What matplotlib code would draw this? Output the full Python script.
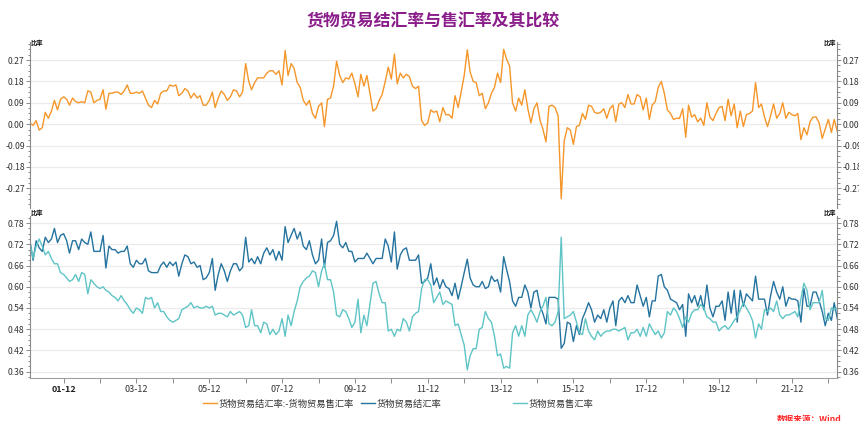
import matplotlib
matplotlib.use("Agg")
import matplotlib.pyplot as plt
import matplotlib.dates as mdates
from matplotlib.ticker import FixedLocator, AutoMinorLocator, FormatStrFormatter
from matplotlib.lines import Line2D
import numpy as np
import pandas as pd

plt.rcParams['font.family'] = ['Noto Sans CJK SC', 'DejaVu Sans']

title = "货物贸易结汇率与售汇率及其比较"
name_diff = "货物贸易结汇率:-货物贸易售汇率"
name_settle = "货物贸易结汇率"
name_sale = "货物贸易售汇率"
source = "数据来源：Wind"
unit = "比率"
start_month = "2001-01"

# 货物贸易结汇率 (monthly, from 2001-01)
settle = [
    0.723, 0.675, 0.73, 0.71, 0.70, 0.74, 0.725, 0.735, 0.765, 0.725,
    0.745, 0.75, 0.73, 0.695, 0.73, 0.73, 0.705, 0.735, 0.725, 0.72,
    0.755, 0.70, 0.70, 0.70, 0.745, 0.653, 0.715, 0.705, 0.705, 0.695,
    0.70, 0.70, 0.715, 0.665, 0.655, 0.675, 0.665, 0.665, 0.68, 0.645,
    0.64, 0.64, 0.64, 0.66, 0.67, 0.655, 0.67, 0.66, 0.67, 0.63,
    0.665, 0.69, 0.685, 0.665, 0.67, 0.655, 0.66, 0.62, 0.625, 0.64,
    0.68, 0.59, 0.635, 0.665, 0.645, 0.615, 0.645, 0.665, 0.665, 0.645,
    0.655, 0.74, 0.67, 0.68, 0.665, 0.685, 0.665, 0.695, 0.71, 0.69,
    0.705, 0.675, 0.70, 0.675, 0.77, 0.725, 0.745, 0.765, 0.735, 0.755,
    0.715, 0.705, 0.73, 0.69, 0.665, 0.675, 0.735, 0.655, 0.725, 0.73,
    0.745, 0.785, 0.72, 0.71, 0.725, 0.70, 0.70, 0.67, 0.68, 0.68,
    0.68, 0.695, 0.68, 0.665, 0.68, 0.68, 0.68, 0.735, 0.715, 0.67,
    0.755, 0.65, 0.69, 0.705, 0.71, 0.675, 0.675, 0.675, 0.69, 0.61,
    0.615, 0.625, 0.665,
    0.605, 0.625, 0.595, 0.62, 0.60, 0.595, 0.575, 0.61, 0.565, 0.60,
    0.64, 0.678, 0.625, 0.605, 0.60, 0.60, 0.615, 0.595, 0.60, 0.63,
    0.615, 0.62, 0.585, 0.685, 0.65, 0.615, 0.56, 0.545, 0.57, 0.57,
    0.605, 0.585, 0.54, 0.585, 0.59, 0.545, 0.525, 0.495, 0.57, 0.57,
    0.57, 0.565, 0.426, 0.44, 0.50, 0.495, 0.445, 0.49, 0.465, 0.51,
    0.53, 0.555, 0.535, 0.50, 0.52, 0.51, 0.535, 0.50, 0.54, 0.56,
    0.49, 0.56, 0.57, 0.555, 0.575, 0.555, 0.555, 0.605, 0.575, 0.545,
    0.57, 0.515, 0.56, 0.56, 0.63, 0.635, 0.60, 0.59, 0.565, 0.56,
    0.555, 0.535, 0.55, 0.46, 0.58, 0.555, 0.575, 0.545, 0.575, 0.535,
    0.605, 0.54, 0.515, 0.545, 0.545, 0.56, 0.505, 0.585, 0.525, 0.59,
    0.50, 0.59, 0.545, 0.58, 0.57, 0.56, 0.63, 0.565, 0.565, 0.565,
    0.52, 0.575, 0.615, 0.585, 0.565, 0.60, 0.545, 0.57, 0.565, 0.565,
    0.56, 0.50, 0.595, 0.545, 0.545, 0.585, 0.585, 0.56, 0.53, 0.49,
    0.525, 0.505, 0.555, 0.51,
]

# 货物贸易售汇率 (monthly, from 2001-01)
sale = [
    0.72, 0.68, 0.715, 0.735, 0.715, 0.69, 0.70, 0.68, 0.665, 0.665,
    0.64, 0.635, 0.625, 0.615, 0.62, 0.635, 0.615, 0.64, 0.635, 0.58,
    0.62, 0.61, 0.60, 0.595, 0.60, 0.59, 0.585, 0.575, 0.57, 0.56,
    0.575, 0.56, 0.55, 0.535, 0.525, 0.54, 0.535, 0.525, 0.57, 0.565,
    0.57, 0.54, 0.555, 0.53, 0.53, 0.515, 0.505, 0.50, 0.505, 0.51,
    0.535, 0.54, 0.545, 0.555, 0.54, 0.545, 0.54, 0.54, 0.545, 0.54,
    0.545, 0.52, 0.525, 0.525, 0.52, 0.515, 0.53, 0.52, 0.525, 0.53,
    0.52, 0.485, 0.49, 0.535, 0.49, 0.49, 0.47, 0.50, 0.495, 0.465,
    0.48, 0.465, 0.475, 0.51, 0.46, 0.52, 0.49, 0.53, 0.56, 0.60,
    0.615, 0.625, 0.63, 0.645, 0.64, 0.60, 0.645, 0.665, 0.62, 0.62,
    0.585, 0.52, 0.515, 0.535, 0.53, 0.51, 0.485, 0.50, 0.565, 0.47,
    0.52, 0.49, 0.55, 0.61, 0.615, 0.58, 0.555, 0.555, 0.475, 0.48,
    0.46, 0.48, 0.475, 0.51, 0.50, 0.475, 0.515, 0.525, 0.53, 0.595,
    0.62, 0.62, 0.605,
    0.555, 0.57, 0.585, 0.55, 0.56, 0.555, 0.55, 0.49, 0.495, 0.465,
    0.435, 0.365, 0.405, 0.425, 0.425, 0.48, 0.485, 0.53, 0.51, 0.50,
    0.46, 0.405, 0.41, 0.37, 0.375, 0.37, 0.47, 0.49, 0.46, 0.49,
    0.46, 0.52, 0.535, 0.52, 0.50, 0.53, 0.545, 0.57, 0.495, 0.49,
    0.50, 0.53, 0.74, 0.51, 0.515, 0.52, 0.53, 0.50, 0.47, 0.465,
    0.51, 0.475, 0.46, 0.45, 0.475, 0.46, 0.47, 0.475, 0.475, 0.48,
    0.48, 0.475, 0.48, 0.485, 0.45, 0.47, 0.47, 0.48, 0.46, 0.485,
    0.46, 0.495, 0.48, 0.465, 0.475, 0.455, 0.47, 0.53, 0.52, 0.54,
    0.53, 0.51, 0.485, 0.515, 0.50, 0.525, 0.535, 0.535, 0.55, 0.54,
    0.515, 0.51, 0.50, 0.50, 0.475, 0.485, 0.49, 0.48, 0.49, 0.505,
    0.515, 0.535, 0.555, 0.54, 0.525, 0.505, 0.455, 0.495, 0.48, 0.535,
    0.53, 0.54, 0.53, 0.56, 0.52, 0.51, 0.52, 0.52, 0.525, 0.53,
    0.515, 0.565, 0.61, 0.59, 0.535, 0.555, 0.555, 0.555, 0.59, 0.51,
    0.505, 0.54, 0.535, 0.54,
]

top_ticks = [-0.27, -0.18, -0.09, 0.00, 0.09, 0.18, 0.27]
bottom_ticks = [0.36, 0.42, 0.48, 0.54, 0.60, 0.66, 0.72, 0.78]
label_years = list(range(2001, 2022, 2))
tick_years = list(range(2001, 2023))

assert len(settle) == len(sale), (len(settle), len(sale))
dates = pd.date_range(start_month + "-01", periods=len(settle), freq="MS") + pd.offsets.MonthEnd(0)
settle_a = np.array(settle)
sale_a = np.array(sale)
diff_a = settle_a - sale_a

C_DIFF = '#f5962a'
C_SET = '#25739f'
C_SALE = '#5fc4c6'
GRID = '#ebebeb'
SPINE = '#8a8a8a'
TXT = '#333333'

W, H = 859, 421
fig = plt.figure(figsize=(W / 100, H / 100), dpi=100)

L = 30.3 / W
R = 837.3 / W
ax1 = fig.add_axes([L, 1 - 208 / H, R - L, 166 / H])
ax2 = fig.add_axes([L, 1 - 377.7 / H, R - L, (377.7 - 216) / H], sharex=ax1)

ax1.plot(dates, diff_a, color=C_DIFF, lw=1.0)
ax2.plot(dates, settle_a, color=C_SET, lw=1.0)
ax2.plot(dates, sale_a, color=C_SALE, lw=1.0)

ax1.set_ylim(-0.353, 0.346)
ax2.set_ylim(0.343, 0.80)
ax1.set_yticks(top_ticks)
ax2.set_yticks(bottom_ticks)

for ax in (ax1, ax2):
    ax.yaxis.set_major_formatter(FormatStrFormatter('%.2f'))
    ax.yaxis.set_minor_locator(AutoMinorLocator(4))
    ax.grid(axis='y', color=GRID, lw=0.9)
    ax.set_axisbelow(True)
    ax.spines['top'].set_visible(False)
    for s in ('left', 'right'):
        ax.spines[s].set_color(SPINE)
        ax.spines[s].set_linewidth(0.8)
    ax.tick_params(axis='y', which='both', left=True, right=True,
                   labelleft=True, labelright=True, direction='out',
                   colors=SPINE, labelcolor=TXT, labelsize=6.2, width=0.7, pad=1)
    ax.tick_params(axis='y', which='major', length=3)
    ax.tick_params(axis='y', which='minor', length=1.8)

ax1.spines['bottom'].set_visible(False)
ax1.tick_params(axis='x', which='both', bottom=False, labelbottom=False)

ax2.spines['bottom'].set_color('#a0a0a0')
ax2.spines['bottom'].set_linewidth(0.8)
tick_dates = [pd.Timestamp(f"{y}-12-31") for y in tick_years]
tick_labels = [f"{y % 100:02d}-12" if y in label_years else "" for y in tick_years]
ax2.xaxis.set_major_locator(FixedLocator(mdates.date2num(tick_dates)))
ax2.set_xticklabels(tick_labels)
ax2.tick_params(axis='x', which='major', length=3.5, direction='out', colors=SPINE,
                labelcolor=TXT, labelsize=6.5, width=0.7, pad=2)
ax2.xaxis.set_minor_locator(FixedLocator([]))
for lbl in ax2.get_xticklabels():
    if lbl.get_text() == "01-12":
        lbl.set_fontweight('bold')
        lbl.set_color('#222222')
ax2.set_xlim(dates[0], dates[-1])

# unit labels
for ax, top_px in ((ax1, 42), (ax2, 213)):
    fig.text(30.5 / W, 1 - top_px / H, unit, fontsize=4.5, fontweight='bold',
             ha='left', va='center', color='#111111')
    fig.text(836.5 / W, 1 - top_px / H, unit, fontsize=4.5, fontweight='bold',
             ha='right', va='center', color='#111111')

fig.text(433 / W, 1 - 21 / H, title, fontsize=12.2, fontweight='bold',
         color='#8a1d8a', ha='center', va='center')

# legends
legend_items = [(name_diff, C_DIFF, 203), (name_settle, C_SET, 361), (name_sale, C_SALE, 513)]
for name, col, xpx in legend_items:
    h = Line2D([], [], color=col, lw=1.0)
    fig.legend(handles=[h], labels=[name], loc='center left',
               bbox_to_anchor=(xpx / W, 1 - 404 / H), frameon=False,
               fontsize=6.7, handlelength=1.55, handletextpad=0.12,
               borderpad=0, borderaxespad=0, labelcolor=TXT)

fig.text(777 / W, 1 - 419.5 / H, source, fontsize=6.2, color='#ff2a2a',
         style='italic', fontweight='bold', ha='left', va='center')

fig.savefig("out.png", dpi=100)
